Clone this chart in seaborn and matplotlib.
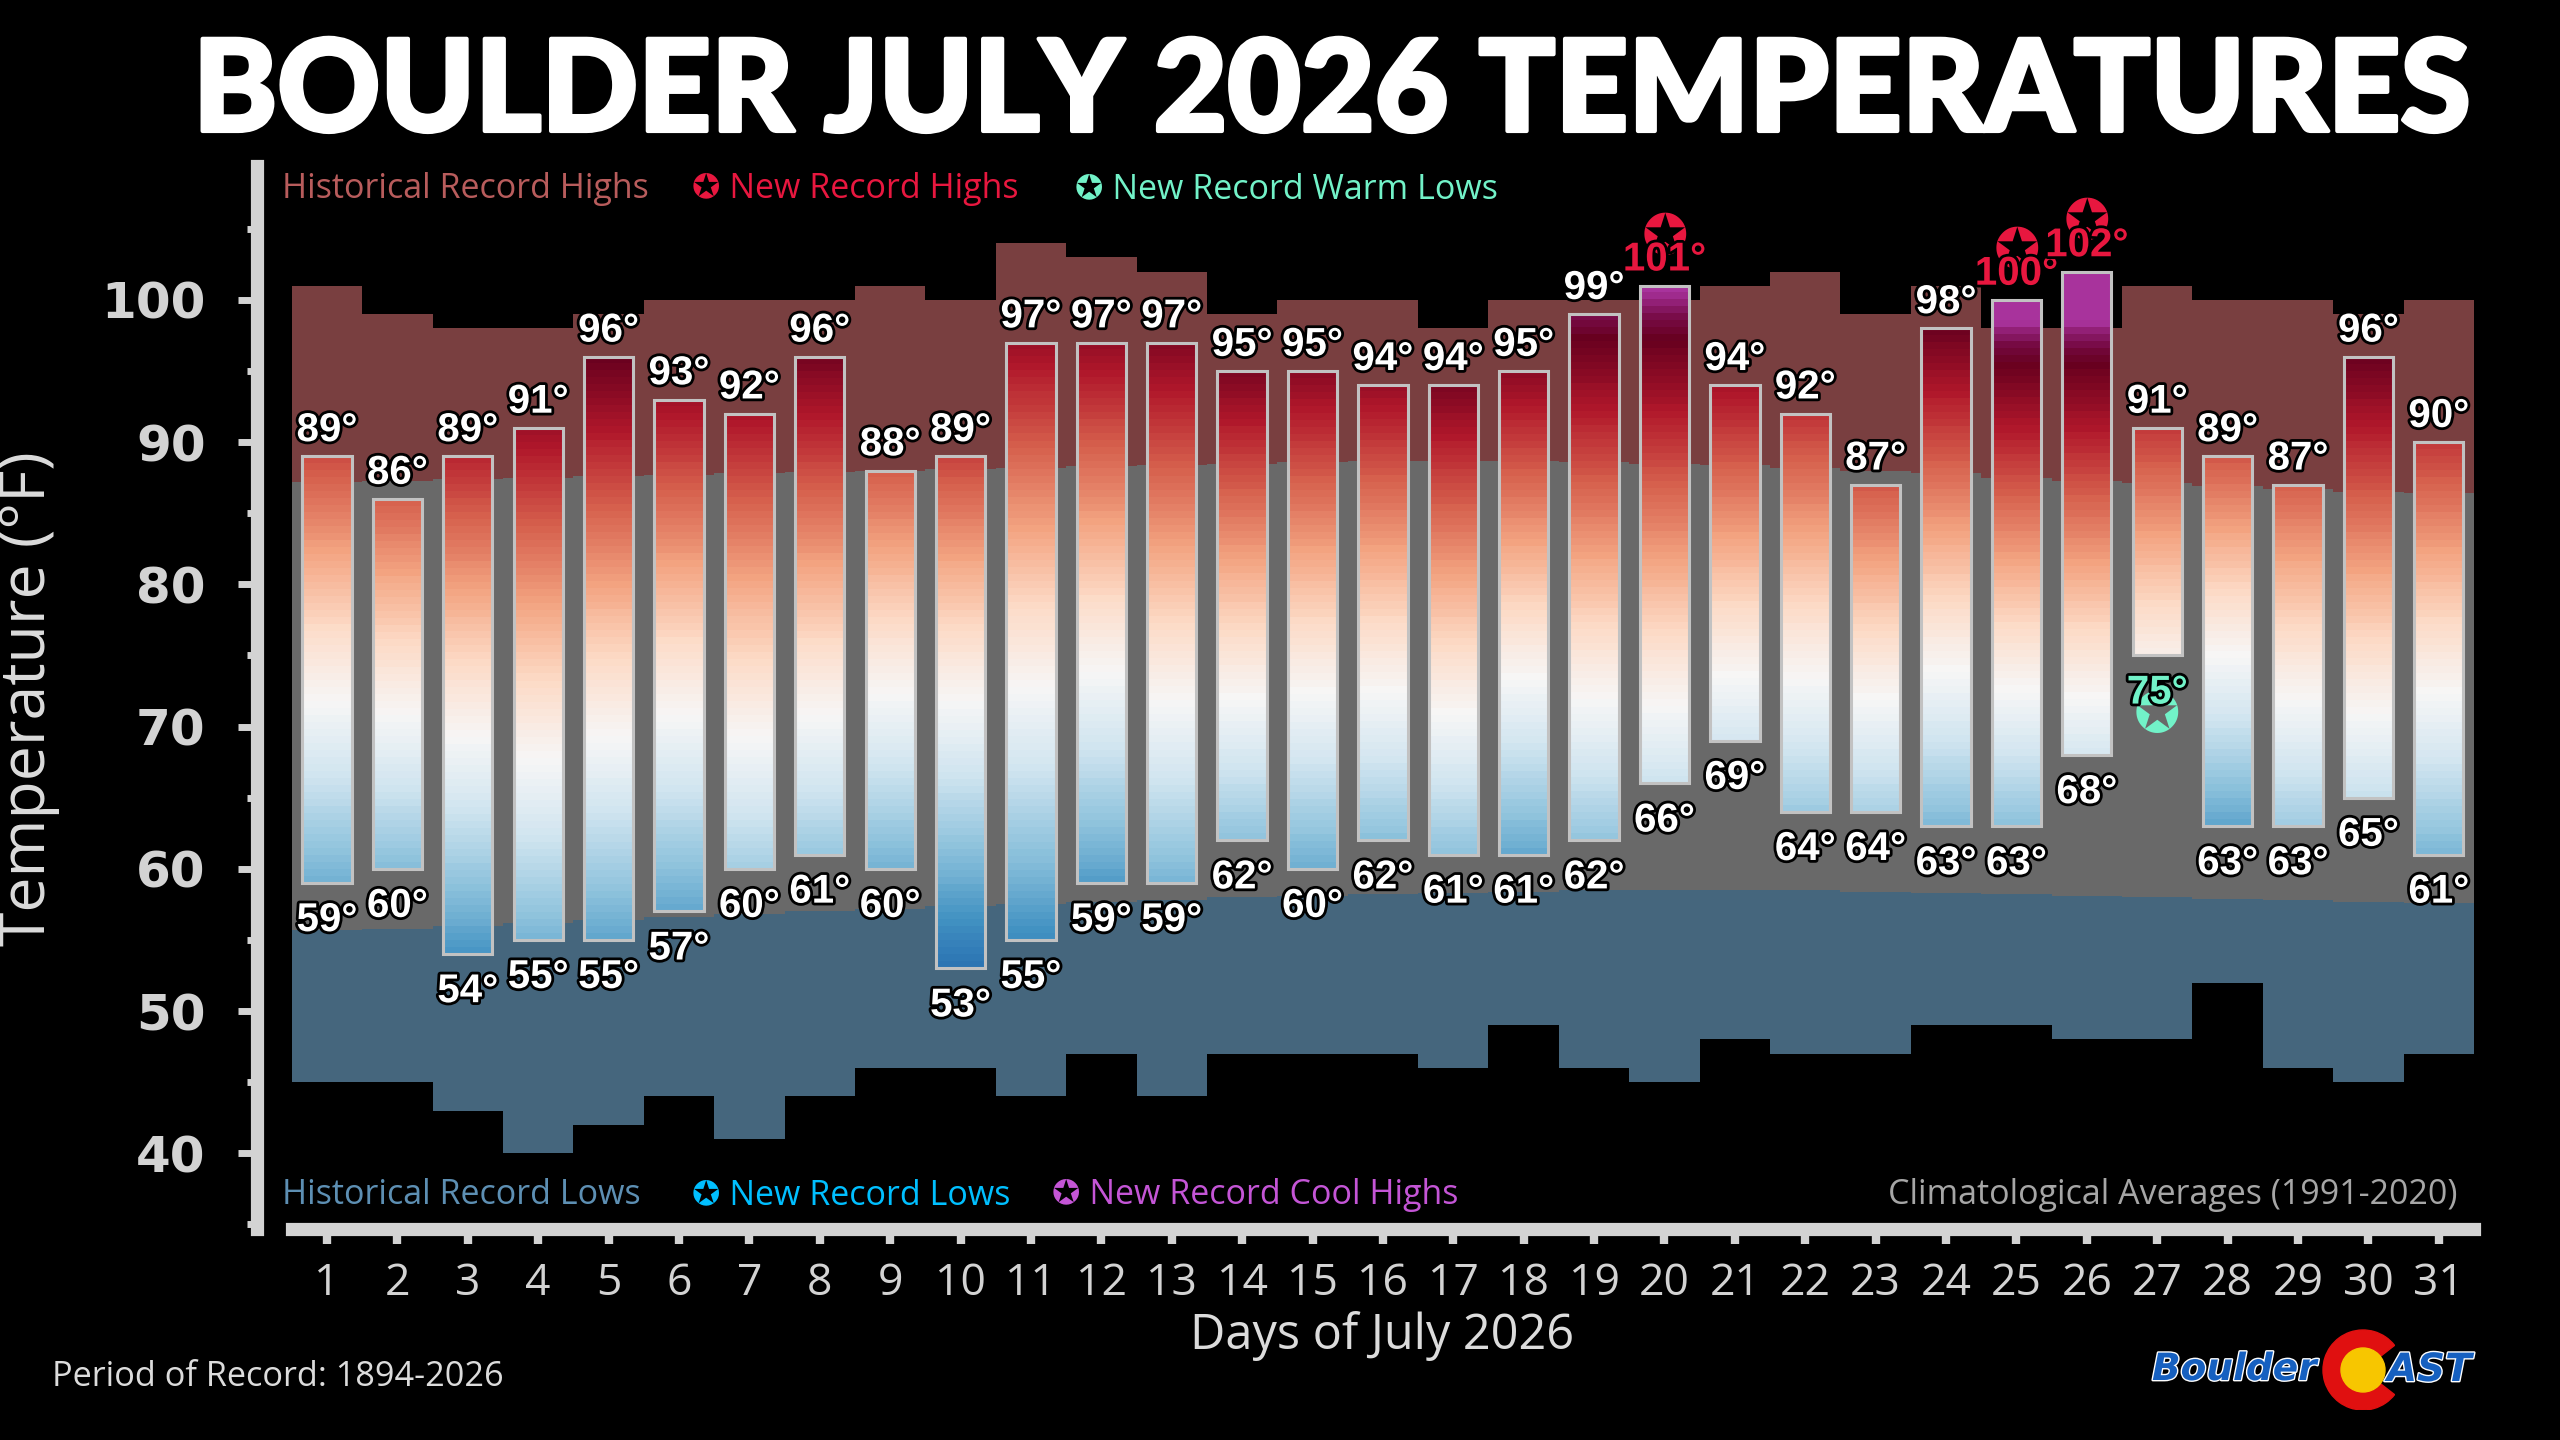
import numpy as np
import pandas as pd
import matplotlib
matplotlib.use("Agg")
import matplotlib.pyplot as plt
import matplotlib.patheffects as pe
from matplotlib.colors import LinearSegmentedColormap, Normalize
from matplotlib.patches import Wedge, Circle
from matplotlib.ticker import FixedLocator
import seaborn as sns

# ------------------------------------ data ----------------------------------------
days = list(range(1, 32))
highs = [89, 86, 89, 91, 96, 93, 92, 96, 88, 89, 97, 97, 97, 95, 95, 94,
         94, 95, 99, 101, 94, 92, 87, 98, 100, 102, 91, 89, 87, 96, 90]
lows = [59, 60, 54, 55, 55, 57, 60, 61, 60, 53, 55, 59, 59, 62, 60, 62,
        61, 61, 62, 66, 69, 64, 64, 63, 63, 68, 75, 63, 63, 65, 61]
record_highs = [101, 99, 98, 98, 99, 100, 100, 100, 101, 100, 104, 103, 102, 99, 100, 100,
                98, 100, 100, 100, 101, 102, 99, 101, 98, 98, 101, 100, 100, 99, 100]
record_lows = [45, 45, 43, 40, 42, 44, 41, 44, 46, 46, 44, 47, 44, 47, 47, 47,
               46, 49, 46, 45, 48, 47, 47, 49, 49, 48, 48, 52, 46, 45, 47]
normal_highs = [87.2, 87.3, 87.4, 87.5, 87.6, 87.7, 87.8, 87.9, 88.0, 88.1, 88.2, 88.3, 88.4, 88.5, 88.6, 88.7,
                88.7, 88.7, 88.6, 88.5, 88.4, 88.2, 88.0, 87.8, 87.5, 87.3, 87.1, 86.9, 86.7, 86.5, 86.4]
normal_lows = [55.7, 55.8, 56.0, 56.2, 56.4, 56.6, 56.8, 57.0, 57.2, 57.4, 57.5, 57.7, 57.8, 58.0, 58.1, 58.2,
               58.3, 58.4, 58.5, 58.5, 58.5, 58.5, 58.4, 58.3, 58.2, 58.1, 58.0, 57.9, 57.8, 57.7, 57.6]
new_record_high_days = [20, 25, 26]
new_warm_low_days = [27]
y_ticks = [40, 50, 60, 70, 80, 90, 100]

df = pd.DataFrame({"day": days, "high": highs, "low": lows,
                   "rec_high": record_highs, "rec_low": record_lows,
                   "norm_high": normal_highs, "norm_low": normal_lows})
df["span"] = df["high"] - df["low"]

# ------------------------------------ style ----------------------------------------
sns.set_theme(style="ticks", rc={"axes.facecolor": "black", "figure.facecolor": "black",
                                 "savefig.facecolor": "black"})
plt.rcParams["font.family"] = ["Open Sans", "DejaVu Sans"]

AXIS_GREY = "#d3d3d3"
REC_HIGH_FILL = "#793f40"
NORMAL_FILL = "#696969"
REC_LOW_FILL = "#45667d"
NEW_HIGH_RED = "#e8173f"
WARM_LOW_AQUA = "#72f2c8"
LABEL_FONT = ["Liberation Sans Narrow", "Liberation Sans", "DejaVu Sans"]

# colour scale: 0 = record low, 1 = record high for each day, purple near/above the record
rdbu = plt.get_cmap("RdBu_r")
F_MAX = 1.1
stops = [(f * 0.955 / F_MAX, rdbu(f)) for f in np.linspace(0, 1, 21)]
stops += [(0.985 / F_MAX, "#7a0d4c"), (1.015 / F_MAX, "#a8339c"), (1.0, "#a8339c")]
temp_cmap = LinearSegmentedColormap.from_list("boulder", stops)
temp_norm = Normalize(0, F_MAX)

fig = plt.figure(figsize=(25.6, 14.4), dpi=100)
ax = fig.add_axes([0.11398, 0.14681, 0.85243, 0.7377])

# ------------------------------------ background climatology ----------------------------------------
edges = np.append(df["day"].values - 0.5, df["day"].values[-1] + 0.5)


def step(col):
    return np.append(df[col].values, df[col].values[-1])


ax.fill_between(edges, step("norm_high"), step("rec_high"), step="post", color=REC_HIGH_FILL, lw=0, zorder=1)
ax.fill_between(edges, step("norm_low"), step("norm_high"), step="post", color=NORMAL_FILL, lw=0, zorder=1)
ax.fill_between(edges, step("rec_low"), step("norm_low"), step="post", color=REC_LOW_FILL, lw=0, zorder=1)

# ------------------------------------ gradient bars ----------------------------------------
bar_w = 0.7
for _, r in df.iterrows():
    t = np.linspace(r["low"], r["high"], int(r["span"] * 2) + 1)
    frac = np.clip((t - r["rec_low"]) / (r["rec_high"] - r["rec_low"]), 0, F_MAX)
    ax.imshow(frac[:, None], extent=(r["day"] - bar_w / 2, r["day"] + bar_w / 2, r["low"], r["high"]),
              origin="lower", aspect="auto", cmap=temp_cmap, norm=temp_norm,
              interpolation="nearest", zorder=3)

sns.barplot(data=df, x="day", y="span", bottom=df["low"].values, native_scale=True, width=bar_w,
            fill=False, color="#c2c2c2", edgecolor="#c2c2c2", linewidth=2.2, errorbar=None,
            ax=ax, zorder=4)

# ------------------------------------ value labels ----------------------------------------
outline = [pe.withStroke(linewidth=4, foreground="black")]
for _, r in df.iterrows():
    d = int(r["day"])
    hcol = NEW_HIGH_RED if d in new_record_high_days else "white"
    lcol = WARM_LOW_AQUA if d in new_warm_low_days else "white"
    ax.annotate(f"{int(r['high'])}°", (d, r["high"]), xytext=(0, 11), textcoords="offset points",
                ha="center", va="baseline", fontsize=29, fontweight="bold", color=hcol,
                family=LABEL_FONT, path_effects=outline, zorder=6)
    ax.annotate(f"{int(r['low'])}°", (d, r["low"]), xytext=(0, -13), textcoords="offset points",
                ha="center", va="top", fontsize=29, fontweight="bold", color=lcol,
                family=LABEL_FONT, path_effects=outline, zorder=6)
    if d in new_record_high_days:
        ax.annotate("✪", (d, r["high"]), xytext=(0, 34), textcoords="offset points",
                    ha="center", va="center", fontsize=40, color=NEW_HIGH_RED,
                    family=["DejaVu Sans"], zorder=5)
    if d in new_warm_low_days:
        ax.annotate("✪", (d, r["low"]), xytext=(0, -44), textcoords="offset points",
                    ha="center", va="center", fontsize=40, color=WARM_LOW_AQUA,
                    family=["DejaVu Sans"], zorder=5)

# ------------------------------------ axes ----------------------------------------
ax.set_xlim(0.5, 31.5)
ax.set_ylim(34.7, 109.4)
ax.set_xticks(days)
ax.set_xticklabels([str(d) for d in days])
ax.set_yticks(y_ticks)
ax.yaxis.set_minor_locator(FixedLocator([35, 45, 55, 65, 75, 85, 95, 105]))
ax.set_xlabel("")
ax.set_ylabel("")
for side in ["top", "right"]:
    ax.spines[side].set_visible(False)
for side in ["left", "bottom"]:
    ax.spines[side].set_color(AXIS_GREY)
    ax.spines[side].set_linewidth(9.5)
ax.spines["left"].set_position(("outward", 25))
ax.tick_params(axis="y", which="major", length=14, width=5, color=AXIS_GREY, pad=23,
               labelsize=36, labelcolor=AXIS_GREY)
ax.tick_params(axis="y", which="minor", length=7, width=5, color=AXIS_GREY)
ax.tick_params(axis="x", which="major", length=11, width=6, color=AXIS_GREY, pad=13,
               labelsize=32, labelcolor=AXIS_GREY)
for lbl in ax.get_yticklabels():
    lbl.set_fontweight("bold")
    lbl.set_family("DejaVu Sans")

# ------------------------------------ titles and legend text ----------------------------------------
fig.text(0.5205, 1 - 131 / 1440, "BOULDER JULY 2026 TEMPERATURES", ha="center", va="baseline",
         fontsize=91.5, fontweight="black", color="white", family=["Lato", "DejaVu Sans"],
         path_effects=[pe.withStroke(linewidth=3, foreground="white")])
fig.text(29 / 2560, 0.515, "Temperature (°F)", rotation=90, ha="center", va="center",
         fontsize=45, color="#dcdcdc")
fig.text(0.540, 0.072, "Days of July 2026", ha="center", va="center", fontsize=35, color="#dcdcdc")
fig.text(52 / 2560, 1 - 1377 / 1440, "Period of Record: 1894-2026", ha="left", va="center",
         fontsize=24.7, color="#dcdcdc")

top_y = 1 - 189 / 1440
bot_y = 1 - 1195 / 1440
LEG = 24.5
fig.text(282 / 2560, top_y, "Historical Record Highs", ha="left", va="center", fontsize=LEG, color="#b85c5c")
fig.text(692 / 2560, top_y, "✪ New Record Highs", ha="left", va="center", fontsize=LEG, color=NEW_HIGH_RED)
fig.text(1075 / 2560, top_y, "✪ New Record Warm Lows", ha="left", va="center", fontsize=LEG, color=WARM_LOW_AQUA)
fig.text(282 / 2560, bot_y, "Historical Record Lows", ha="left", va="center", fontsize=LEG, color="#5d8fb3")
fig.text(692 / 2560, bot_y, "✪ New Record Lows", ha="left", va="center", fontsize=LEG, color="#00bfff")
fig.text(1052 / 2560, bot_y, "✪ New Record Cool Highs", ha="left", va="center", fontsize=LEG, color="#c455d6")
fig.text(2458 / 2560, bot_y, "Climatological Averages (1991-2020)", ha="right", va="center",
         fontsize=LEG, color="#a6a6a6")

# ------------------------------------ logo ----------------------------------------
logo = fig.add_axes([2140 / 2560, 30 / 1440, 360 / 2560, 85 / 1440])
logo.set_xlim(0, 360)
logo.set_ylim(0, 85)
logo.axis("off")
logo_edge = [pe.withStroke(linewidth=2, foreground="white")]
logo.text(12, 40, "Boulder", ha="left", va="center", fontsize=27, fontweight="bold", style="italic",
          color="#1660c0", family=["DejaVu Sans"], path_effects=logo_edge)
logo.add_patch(Wedge((223, 40), 40, 38, 322, width=18, color="#e01010"))
logo.add_patch(Circle((223, 40), 22, color="#f7c600"))
logo.text(247, 40, "AST", ha="left", va="center", fontsize=28, fontweight="bold", style="italic",
          color="#1660c0", family=["DejaVu Sans"], path_effects=logo_edge)

fig.savefig("out.png", dpi=100, facecolor="black")
